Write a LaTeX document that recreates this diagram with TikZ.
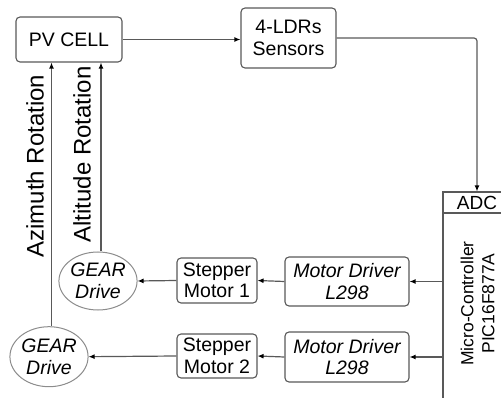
\documentclass[tikz,border=0pt]{standalone}
\usepackage{fontspec}
\setmainfont{Liberation Sans}
\usetikzlibrary{arrows.meta,shapes.geometric}
\begin{document}
\begin{tikzpicture}[x=1pt,y=-1pt,
  line/.style={draw=black!65, line width=1.2pt},
  arr/.style={line, -{Latex[length=6pt,width=5pt,black]}},
  box/.style={draw=black!65, line width=1.1pt, rounded corners=4pt, fill=white, inner sep=0pt, align=center, font=\fontsize{19.5}{21.5}\selectfont},
  gear/.style={ellipse, draw=black!45, line width=1pt, fill=white, inner sep=0pt, align=center, font=\fontsize{19.5}{21.5}\selectfont\itshape},
  rot/.style={rotate=90, inner sep=0pt, font=\fontsize{24}{26}\selectfont}
]
\useasboundingbox (0,0) rectangle (501,398);
% boxes
\node[box, minimum width=106pt, minimum height=45pt] (pv) at (69,39.5) {PV CELL};
\node[box, minimum width=95pt, minimum height=60pt] (ldr) at (288.5,38) {4-LDRs\\Sensors};
\node[draw=black!65, line width=1.1pt, minimum width=72pt, minimum height=228pt, inner sep=0pt] (mc) at (479,306) {};
\node[inner sep=0pt, font=\fontsize{19}{21}\selectfont] (adc) at (477,202.5) {ADC};
\draw[line] (mc.west |- 0,213) -- ++(72,0);
\node[rotate=90, inner sep=0pt, align=center, font=\fontsize{17.5}{21}\selectfont] (mctext) at (477.5,303.5) {Micro-Controller\\PIC16F877A};
\node[box, font=\fontsize{19.5}{21.5}\selectfont\itshape, minimum width=124pt, minimum height=49pt] (d1) at (347,281.5) {Motor Driver\\L298};
\node[box, font=\fontsize{19.5}{21.5}\selectfont\itshape, minimum width=124pt, minimum height=50pt] (d2) at (347,357) {Motor Driver\\L298};
\node[box, minimum width=80pt, minimum height=45pt] (s1) at (217,280.5) {Stepper\\Motor 1};
\node[box, minimum width=80pt, minimum height=44pt] (s2) at (217,356) {Stepper\\Motor 2};
\node[gear, minimum width=68pt, minimum height=58pt] (g1) at (98,281) {GEAR\\Drive};
\node[gear, minimum width=65pt, minimum height=60pt] (g2) at (49,356.7) {GEAR\\Drive};
% rotation labels
\node[rot] (az) at (35,166) {Azimuth Rotation};
\node[rot] (al) at (82,154.5) {Altitude Rotation};
% connectors
\draw[arr] (pv.east) -- (pv.east -| ldr.west);
\draw[arr, rounded corners=3pt] (ldr.east) -| (mc.north -| adc);
\draw[arr] (mc.west |- d1) -- (d1.east);
\draw[arr] (mc.west |- d2) -- (d2.east);
\draw[arr] (d1.west) -- (s1.east);
\draw[arr] (d2.west) -- (s2.east);
\draw[arr] (s1.west) -- (g1.east);
\draw[arr] (s2.west) -- (g2.east);
\draw[arr] ([xshift=3pt]g1.north) -- ([xshift=3pt]g1.north |- pv.south);
\draw[arr] ([xshift=2.5pt]g2.north) -- ([xshift=2.5pt]g2.north |- pv.south);
\end{tikzpicture}
\end{document}
